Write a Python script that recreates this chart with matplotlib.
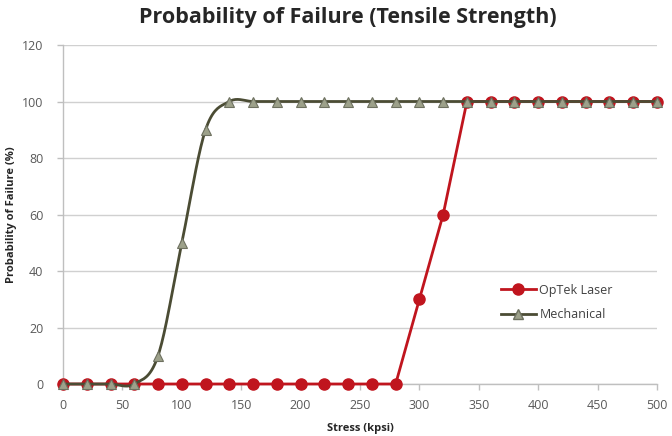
import numpy as np
import matplotlib
matplotlib.use("Agg")
import matplotlib.pyplot as plt

stress = [0, 20, 40, 60, 80, 100, 120, 140, 160, 180, 200, 220, 240, 260, 280,
          300, 320, 340, 360, 380, 400, 420, 440, 460, 480, 500]
optek = [0, 0, 0, 0, 0, 0, 0, 0, 0, 0, 0, 0, 0, 0, 0,
         30, 60, 100, 100, 100, 100, 100, 100, 100, 100, 100]
mechanical = [0, 0, 0, 0, 10, 50, 90, 100, 100, 100, 100, 100, 100, 100, 100,
              100, 100, 100, 100, 100, 100, 100, 100, 100, 100, 100]

title = "Probability of Failure (Tensile Strength)"
xlabel = "Stress (kpsi)"
ylabel = "Probability of Failure (%)"
xticks = [0, 50, 100, 150, 200, 250, 300, 350, 400, 450, 500]
yticks = [0, 20, 40, 60, 80, 100, 120]


def catmull_rom(x, y, n=20, tension=0.5):
    x = np.asarray(x, float)
    y = np.asarray(y, float)
    xs, ys = [], []
    for i in range(len(x) - 1):
        p0 = (x[i - 1], y[i - 1]) if i > 0 else (x[i], y[i])
        p1 = (x[i], y[i])
        p2 = (x[i + 1], y[i + 1])
        p3 = (x[i + 2], y[i + 2]) if i + 2 < len(x) else (x[i + 1], y[i + 1])
        t = np.linspace(0, 1, n, endpoint=False)
        m1x = tension * (p2[0] - p0[0]); m1y = tension * (p2[1] - p0[1])
        m2x = tension * (p3[0] - p1[0]); m2y = tension * (p3[1] - p1[1])
        h00 = 2 * t**3 - 3 * t**2 + 1
        h10 = t**3 - 2 * t**2 + t
        h01 = -2 * t**3 + 3 * t**2
        h11 = t**3 - t**2
        xs.append(h00 * p1[0] + h10 * m1x + h01 * p2[0] + h11 * m2x)
        ys.append(h00 * p1[1] + h10 * m1y + h01 * p2[1] + h11 * m2y)
    xs.append([x[-1]]); ys.append([y[-1]])
    return np.concatenate(xs), np.concatenate(ys)


plt.rcParams['font.family'] = ['Open Sans', 'DejaVu Sans']

fig = plt.figure(figsize=(6.72, 4.36), dpi=100)
ax = fig.add_axes([63 / 672, 1 - 384 / 436, (657 - 63) / 672, (384 - 45) / 436])

red = '#C0151E'
olive = '#4B4C34'
olive_fill = '#9DA18A'

ax.plot(stress, optek, color=red, lw=2, marker='o', ms=8,
        markerfacecolor=red, markeredgecolor=red, label='OpTek Laser', zorder=3,
        clip_on=False)

sx, sy = catmull_rom(stress, mechanical)
ax.plot(sx, sy, color=olive, lw=2, zorder=4, clip_on=False)
ax.plot(stress, mechanical, ls='none', marker='^', ms=7,
        markerfacecolor=olive_fill, markeredgecolor='#6E7160', mew=0.8, zorder=4,
        clip_on=False)
ax.plot([], [], color=olive, lw=2, marker='^', ms=7,
        markerfacecolor=olive_fill, markeredgecolor='#6E7160', label='Mechanical')

ax.set_xlim(0, 500)
ax.set_ylim(0, 120)
ax.set_xticks(xticks)
ax.set_yticks(yticks)
ax.yaxis.grid(True, color='#D0D0D0', lw=1)
ax.set_axisbelow(True)
for s in ['top', 'right']:
    ax.spines[s].set_visible(False)
for s in ['left', 'bottom']:
    ax.spines[s].set_color('#BFBFBF')
    ax.spines[s].set_linewidth(1)
ax.tick_params(axis='both', colors='#BFBFBF', labelcolor='#595959', labelsize=9,
               length=4, width=1)
ax.tick_params(axis='y', pad=10)
ax.tick_params(axis='x', pad=7)

fig.text(348 / 672, 1 - 18 / 436, title, fontsize=15.5, fontweight='bold',
         color='#262626', ha='center', va='center')
ax.set_xlabel(xlabel, fontsize=8, fontweight='bold', color='#262626', labelpad=8)
ax.set_ylabel(ylabel, fontsize=8, fontweight='bold', color='#262626', labelpad=4)

leg = ax.legend(loc='upper left', bbox_to_anchor=(0.72, 0.325), frameon=True,
                fontsize=9, handlelength=2.8, labelspacing=0.9, borderpad=0.3,
                handletextpad=0.3)
leg.get_frame().set_edgecolor('none')
leg.get_frame().set_facecolor('white')
leg.get_frame().set_alpha(1)
for t in leg.get_texts():
    t.set_color('#404040')

fig.savefig('out.png', dpi=100)
